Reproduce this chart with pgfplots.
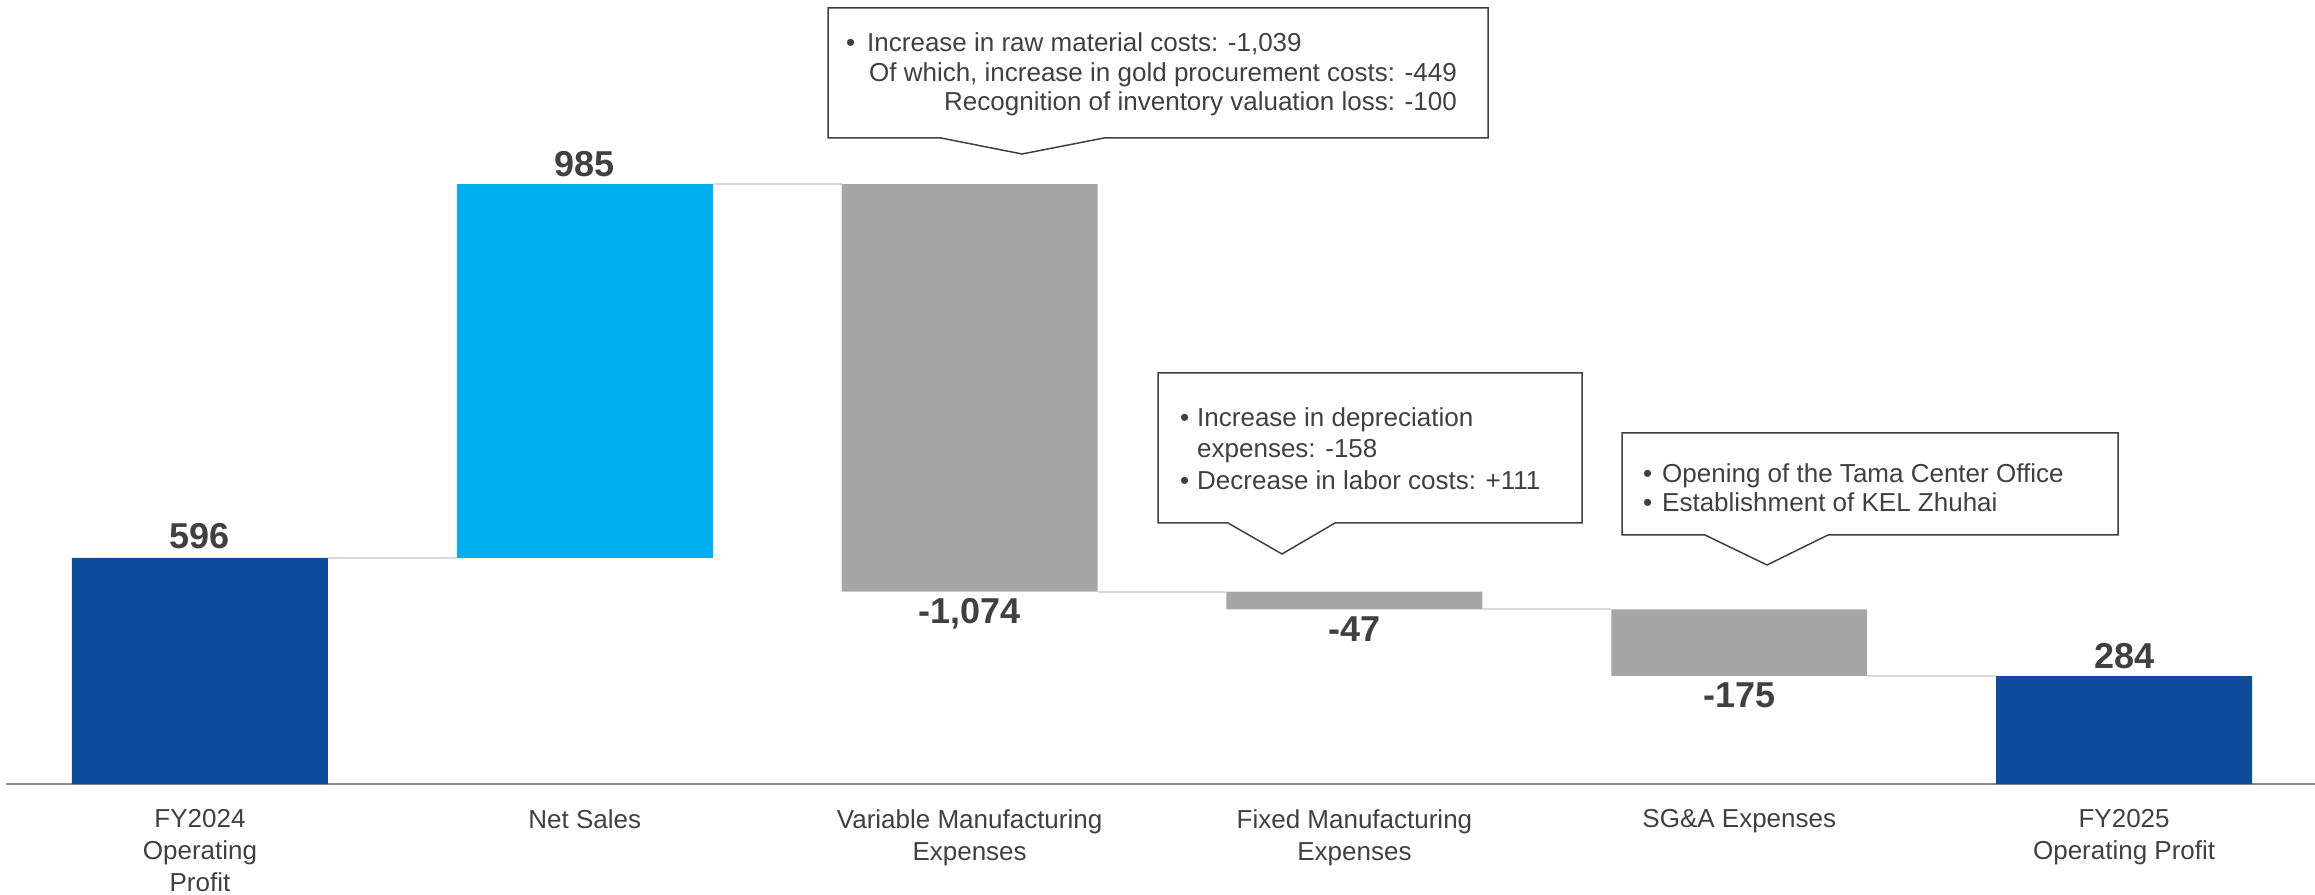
\documentclass[border=0pt]{standalone}
\usepackage{fontspec}
\setmainfont{Liberation Sans}
\usepackage{pgfplots}
\pgfplotsset{compat=1.18}

\definecolor{opnavy}{HTML}{0F4C9C}
\definecolor{salescyan}{HTML}{00B0F0}
\definecolor{costgray}{HTML}{A6A6A6}
\definecolor{linkgray}{HTML}{D9D9D9}
\definecolor{axisgray}{HTML}{8C8C8C}
\definecolor{txt}{HTML}{404040}

\pgfplotsset{
  wfbase/.style={width=2309pt, height=784pt, scale only axis,
    xmin=-0.504, xmax=5.496, ymin=0, ymax=2066, clip=false},
}
\tikzset{
  val/.style={font=\bfseries\fontsize{36}{43}\selectfont, text=txt, inner sep=0pt},
  note/.style={font=\fontsize{26}{31}\selectfont, text=txt, inner sep=0pt},
  callout/.style={draw=txt, line width=1.5pt, fill=white, line join=miter},
}

\begin{document}
\begin{tikzpicture}
% floating bars: invisible base + visible change, stacked
\begin{axis}[wfbase, name=ax, ybar stacked, bar width=0.665,
  axis x line=bottom, axis y line=none,
  x axis line style={-, draw=axisgray, line width=2pt},
  xtick={0,1,2,3,4,5}, major tick length=0pt, xtick style={draw=none},
  xticklabels={{FY2024\\Operating\\Profit}, {Net Sales}, {Variable Manufacturing\\Expenses},
    {Fixed Manufacturing\\Expenses}, {SG\&A Expenses}, {FY2025\\Operating Profit}},
  xticklabel style={font=\fontsize{26}{32}\selectfont, text=txt, align=center,
    anchor=north, inner sep=0pt, yshift=-25pt},
]
\addplot[draw=none, fill=none] coordinates {(0,0) (1,596) (2,507) (3,460) (4,285) (5,0)};
\addplot[draw=none, fill=opnavy] coordinates {(0,596) (1,0) (2,0) (3,0) (4,0) (5,284)};
\addplot[draw=none, fill=salescyan] coordinates {(0,0) (1,985) (2,0) (3,0) (4,0) (5,0)};
\addplot[draw=none, fill=costgray] coordinates {(0,0) (1,0) (2,1074) (3,47) (4,175) (5,0)};
\end{axis}

% connectors and value labels
\begin{axis}[wfbase, hide axis]
\addplot[linkgray, line width=2pt] coordinates {(0.3325,596) (0.6675,596)};
\addplot[linkgray, line width=2pt] coordinates {(1.3325,1581) (1.6675,1581)};
\addplot[linkgray, line width=2pt] coordinates {(2.3325,507) (2.6675,507)};
\addplot[linkgray, line width=2pt] coordinates {(3.3325,460) (3.6675,460)};
\addplot[linkgray, line width=2pt] coordinates {(4.3325,285) (4.6675,285)};
\node[val, anchor=base, yshift=9pt] at (axis cs:0,596) {596};
\node[val, anchor=base, yshift=8pt] at (axis cs:1,1581) {985};
\node[val, anchor=north, yshift=-7pt] at (axis cs:2,507) {-1,074};
\node[val, anchor=north, yshift=-7pt] at (axis cs:3,460) {-47};
\node[val, anchor=north, yshift=-7pt] at (axis cs:4,285) {-175};
\node[val, anchor=base, yshift=8pt] at (axis cs:5,284) {284};
\end{axis}

% explanatory callouts
\begin{scope}[shift={(ax.north west)}, xshift=-6pt, x=1pt, y=-1pt]
\draw[callout] (828,8) -- (1488,8) -- (1488,138) -- (1104,138) -- (1022,154) -- (941,138) -- (828,138) -- cycle;
\node[note, anchor=base west] at (846,52) {•};
\node[note, anchor=base west] at (867,52) {Increase in raw material costs: -1,039};
\node[note, anchor=base east] at (1457,82) {Of which, increase in gold procurement costs: -449};
\node[note, anchor=base east] at (1457,111) {Recognition of inventory valuation loss: -100};

\draw[callout] (1158,373) -- (1582,373) -- (1582,523) -- (1335,523) -- (1282,554) -- (1228,523) -- (1158,523) -- cycle;
\node[note, anchor=base west] at (1180,427) {•};
\node[note, anchor=base west] at (1197,427) {Increase in depreciation};
\node[note, anchor=base west] at (1197,458) {expenses: -158};
\node[note, anchor=base west] at (1180,490) {•};
\node[note, anchor=base west] at (1197,490) {Decrease in labor costs: +111};

\draw[callout] (1622,433) -- (2118,433) -- (2118,535) -- (1828,535) -- (1767,565) -- (1705,535) -- (1622,535) -- cycle;
\node[note, anchor=base west] at (1643,483) {•};
\node[note, anchor=base west] at (1662,483) {Opening of the Tama Center Office};
\node[note, anchor=base west] at (1643,512) {•};
\node[note, anchor=base west] at (1662,512) {Establishment of KEL Zhuhai};
\end{scope}

\pgfresetboundingbox
\path (ax.north west) ++(-6pt,0pt) rectangle ++(2315pt,-894pt);
\end{tikzpicture}
\end{document}
